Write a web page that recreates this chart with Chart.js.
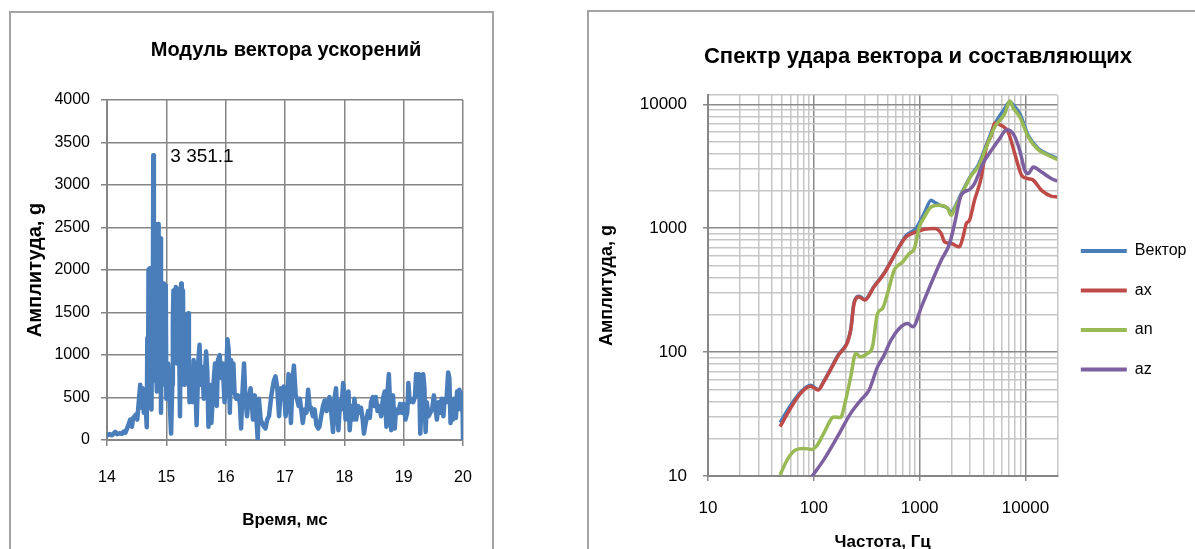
<!DOCTYPE html>
<html>
<head>
<meta charset="utf-8">
<script src="https://cdn.jsdelivr.net/npm/chart.js@4.4.1/dist/chart.umd.min.js"></script>
<style>
  html, body { margin: 0; padding: 0; background: #fff; }
  body { width: 1195px; height: 549px; overflow: hidden; position: relative; }
  .panel { position: absolute; box-sizing: border-box; border: 2px solid #a3a3a3; background: #fff; }
  #leftPanel { left: 9px; top: 11px; width: 485px; height: 620px; }
  #rightPanel { left: 587px; top: 10px; width: 700px; height: 620px; }
  .wrap { position: absolute; }
  #accelWrap { left: 10px; top: 12px; width: 552px; height: 537px; }
  #spectrumWrap { left: 588px; top: 11px; width: 660px; height: 600px; }
</style>
</head>
<body>
<div class="panel" id="leftPanel"></div>
<div class="panel" id="rightPanel"></div>
<div class="wrap" id="accelWrap"><canvas id="accelChart"></canvas></div>
<div class="wrap" id="spectrumWrap"><canvas id="spectrumChart"></canvas></div>
<script>
// --- left chart: |a| vs time, peaks and troughs ---
const timeMs = [
  14.00, 14.04, 14.08, 14.11, 14.14, 14.17, 14.21, 14.25, 14.28, 14.31,
  14.34, 14.36, 14.39, 14.42, 14.44, 14.49, 14.51, 14.56, 14.58, 14.60,
  14.62, 14.65, 14.67, 14.68, 14.69, 14.70, 14.71, 14.72, 14.73, 14.74,
  14.75, 14.76, 14.77, 14.78, 14.79, 14.80, 14.81, 14.82, 14.83, 14.84,
  14.85, 14.86, 14.87, 14.88, 14.89, 14.90, 14.91, 14.92, 14.93, 14.94,
  14.95, 14.96, 14.97, 14.98, 14.99, 15.00, 15.03, 15.05, 15.08, 15.10,
  15.11, 15.12, 15.13, 15.14, 15.15, 15.16, 15.17, 15.18, 15.19, 15.21,
  15.22, 15.23, 15.24, 15.25, 15.26, 15.27, 15.28, 15.29, 15.30, 15.31,
  15.32, 15.33, 15.35, 15.36, 15.37, 15.38, 15.39, 15.41, 15.44, 15.46,
  15.49, 15.51, 15.54, 15.56, 15.58, 15.61, 15.63, 15.67, 15.69, 15.71,
  15.73, 15.76, 15.79, 15.82, 15.85, 15.87, 15.90, 15.92, 15.95, 15.98,
  16.00, 16.03, 16.05, 16.07, 16.09, 16.11, 16.13, 16.15, 16.18, 16.21,
  16.24, 16.26, 16.28, 16.31, 16.33, 16.36, 16.38, 16.42, 16.44, 16.46,
  16.49, 16.52, 16.54, 16.56, 16.59, 16.63, 16.67, 16.70, 16.73, 16.77,
  16.81, 16.84, 16.87, 16.90, 16.93, 16.95, 16.98, 17.01, 17.04, 17.06,
  17.08, 17.10, 17.13, 17.15, 17.18, 17.20, 17.23, 17.25, 17.28, 17.30,
  17.33, 17.36, 17.39, 17.42, 17.44, 17.47, 17.50, 17.53, 17.56, 17.58,
  17.61, 17.64, 17.67, 17.70, 17.72, 17.75, 17.78, 17.81, 17.83, 17.86,
  17.88, 17.90, 17.93, 17.95, 17.98, 18.00, 18.02, 18.05, 18.07, 18.09,
  18.12, 18.15, 18.17, 18.20, 18.23, 18.25, 18.28, 18.31, 18.33, 18.36,
  18.40, 18.43, 18.45, 18.48, 18.51, 18.53, 18.56, 18.59, 18.62, 18.65,
  18.68, 18.71, 18.72, 18.75, 18.77, 18.79, 18.82, 18.85, 18.87, 18.91,
  18.94, 18.97, 19.00, 19.03, 19.06, 19.08, 19.10, 19.13, 19.16, 19.19,
  19.21, 19.23, 19.26, 19.28, 19.30, 19.33, 19.35, 19.37, 19.39, 19.42,
  19.45, 19.48, 19.51, 19.53, 19.56, 19.59, 19.62, 19.64, 19.67, 19.69,
  19.72, 19.75, 19.77, 19.79, 19.81, 19.83, 19.85, 19.88, 19.90, 19.92,
  19.94, 19.97, 19.99, 20.00
];
const accelG = [
  53, 70, 55, 74, 95, 68, 80, 72, 100, 85,
  140, 175, 240, 155, 260, 300, 240, 650, 380, 610,
  320, 440, 150, 1200, 380, 2005, 570, 2020, 900, 1750,
  360, 1500, 700, 3351.1, 900, 1265, 2100, 2540, 800, 570,
  1900, 2540, 1400, 1060, 1900, 2375, 320, 1200, 700, 1595,
  1840, 1100, 650, 1500, 1820, 485, 900, 550, 75, 650,
  1400, 1760, 950, 1060, 1650, 1800, 1100, 900, 1500, 1780,
  900, 280, 1300, 1840, 1200, 1600, 1760, 1000, 650, 1100,
  1470, 900, 815, 1200, 1490, 900, 445, 815, 445, 940,
  650, 175, 940, 1120, 650, 855, 485, 1040, 815, 155,
  650, 200, 610, 900, 400, 940, 1000, 730, 900, 445,
  570, 1185, 1060, 320, 940, 570, 900, 550, 485, 525,
  425, 135, 525, 900, 525, 280, 445, 610, 445, 240,
  525, 240, 10, 485, 240, 175, 135, 240, 280, 525,
  690, 750, 610, 280, 610, 485, 630, 280, 445, 775,
  570, 200, 730, 875, 525, 485, 400, 485, 320, 200,
  360, 320, 590, 360, 380, 280, 360, 175, 135, 155,
  280, 400, 465, 340, 445, 505, 320, 95, 465, 610,
  280, 115, 465, 360, 670, 550, 240, 485, 570, 115,
  400, 240, 485, 240, 400, 320, 380, 240, 75, 200,
  340, 260, 445, 505, 400, 505, 340, 400, 280, 485,
  570, 155, 485, 775, 445, 115, 525, 135, 360, 320,
  425, 320, 425, 240, 320, 670, 445, 485, 445, 505,
  775, 525, 775, 75, 400, 775, 610, 95, 445, 280,
  320, 360, 525, 400, 240, 445, 320, 485, 280, 485,
  445, 795, 730, 200, 400, 240, 485, 260, 570, 360,
  590, 360, 550, 10
];

// --- right chart: shock spectra (frequency Hz, amplitude g) ---
const vectorFreq = [48, 60, 75, 93, 110, 124, 167, 223, 240, 268, 303, 371, 462, 641, 743, 925, 1110, 1283, 1380, 1540, 1846, 1990, 2140, 2470, 3080, 3560, 4270, 5120, 6380, 7110, 7650, 8840, 10650, 13200, 16400, 20000];
const vectorAmp  = [27, 37, 47.5, 54, 50, 58, 93, 152, 252, 283, 266, 340, 435, 715, 870, 1000, 1330, 1680, 1620, 1540, 1450, 1330, 1470, 1900, 2700, 3200, 4700, 6900, 9300, 10500, 9900, 8400, 5600, 4400, 3950, 3650];
const axFreq = [48, 60, 75, 93, 110, 124, 167, 223, 240, 268, 303, 371, 462, 641, 743, 925, 1110, 1380, 1600, 1720, 1990, 2380, 2570, 2760, 2960, 3300, 3830, 4270, 4760, 5120, 5930, 6870, 7940, 9220, 10650, 11870, 14200, 17700, 20000];
const axAmp  = [25, 35, 46.5, 53, 49.4, 57.5, 91.6, 150, 247, 279, 263, 337, 431, 708, 851, 934, 982, 994, 906, 776, 752, 708, 851, 1090, 1160, 1680, 2590, 4530, 5620, 7060, 6760, 5980, 3980, 2670, 2510, 2440, 2020, 1810, 1790];
const anFreq = [48, 56, 67, 80, 96, 108, 124, 155, 179, 200, 223, 249, 278, 321, 358, 400, 446, 497, 575, 690, 798, 891, 993, 1110, 1283, 1540, 1846, 1990, 2140, 2470, 3080, 3560, 4270, 5120, 6380, 7110, 7650, 8840, 10650, 13200, 16400, 20000];
const anAmp  = [10.2, 13.5, 16.2, 16.7, 16.4, 17.8, 22.1, 30, 29.7, 41, 63, 97.6, 91.6, 97.6, 110, 205, 225, 297, 458, 534, 625, 686, 1024, 1233, 1486, 1530, 1440, 1274, 1440, 1846, 2670, 3120, 4530, 6560, 8410, 10640, 9390, 7900, 5440, 4310, 3880, 3580];
const azFreq = [95, 124, 167, 223, 278, 333, 400, 462, 536, 641, 771, 864, 1040, 1283, 1600, 1920, 2140, 2470, 2960, 3300, 3960, 4760, 5700, 6640, 7650, 8840, 9850, 10650, 11870, 14200, 17700, 20000];
const azAmp  = [9.8, 13.5, 20.7, 32, 41, 49.4, 76, 94.6, 125, 155, 170, 160, 232, 358, 552, 752, 1090, 1846, 2050, 2290, 3320, 4250, 5290, 6250, 5800, 4250, 2940, 2760, 3120, 2840, 2510, 2400];

const seriesNames = ['Вектор', 'ax', 'an', 'az'];
const decadeTicks = [10, 100, 1000, 10000];

(function(){
  const COLORS = {
    vector: '#4a7ebb',
    ax: '#be4b48',
    an: '#98b954',
    az: '#7d60a0',
    grid: '#858585',
    gridMajor: '#8a8a8a',
    gridMinor: '#c6c6c6',
    axis: '#868686'
  };
  const SANS = "'Liberation Sans', Arial, sans-serif";

  function toPoints(xs, ys){
    return xs.map((x, i) => ({ x: x, y: ys[i] }));
  }

  function groupThousands(v){
    const parts = v.toFixed(1).split('.');
    return parts[0].replace(/\B(?=(\d{3})+(?!\d))/g, ' ') + '.' + parts[1];
  }

  // chart title centred on the whole canvas (Excel centres it over the full chart box)
  const panelTitle = {
    id: 'panelTitle',
    afterDraw(chart, args, opts){
      const c = chart.ctx;
      c.save();
      c.font = opts.font;
      c.fillStyle = '#000';
      c.textAlign = 'center';
      c.textBaseline = 'middle';
      c.fillText(opts.text, chart.width / 2, opts.y);
      c.restore();
    }
  };

  // max value written next to the highest point, like the Excel data label
  const peakLabel = {
    id: 'peakLabel',
    afterDatasetsDraw(chart){
      const pts = chart.data.datasets[0].data;
      let best = pts[0];
      pts.forEach(p => { if (p.y > best.y) best = p; });
      const px = chart.scales.x.getPixelForValue(best.x);
      const py = chart.scales.y.getPixelForValue(best.y);
      const c = chart.ctx;
      c.save();
      c.font = '19px ' + SANS;
      c.fillStyle = '#000';
      c.textBaseline = 'middle';
      c.fillText(groupThousands(best.y), px + 17, py + 2);
      c.restore();
    }
  };

  function renderAccel(){
    const ctx = document.getElementById('accelChart').getContext('2d');
    return new Chart(ctx, {
      type: 'line',
      data: {
        datasets: [{
          data: toPoints(timeMs, accelG),
          borderColor: COLORS.vector,
          borderWidth: 4.5,
          borderJoinStyle: 'round',
          borderCapStyle: 'round',
          pointRadius: 0,
          tension: 0
        }]
      },
      options: {
        responsive: true,
        maintainAspectRatio: false,
        animation: false,
        layout: { padding: { left: 0, right: 99, top: 88, bottom: 0 } },
        plugins: {
          legend: { display: false },
          tooltip: { enabled: false },
          panelTitle: { text: 'Модуль вектора ускорений', font: 'bold 20px ' + SANS, y: 38 }
        },
        scales: {
          x: {
            type: 'linear', min: 14, max: 20,
            ticks: { stepSize: 1, color: '#000', font: { family: SANS, size: 16 }, padding: 22.4, maxRotation: 0 },
            grid: { color: COLORS.grid, lineWidth: 1.5, tickLength: 6 },
            border: { color: COLORS.axis, width: 2 },
            title: { display: true, text: 'Время, мс', color: '#000', font: { family: SANS, size: 17, weight: 'bold' }, padding: { top: 0, bottom: 18.8 } },
            afterFit: s => { s.height = 109; }
          },
          y: {
            min: 0, max: 4000,
            ticks: { stepSize: 500, color: '#000', font: { family: SANS, size: 16 }, padding: 11, callback: v => String(v) },
            grid: { color: COLORS.grid, lineWidth: 1.5, tickLength: 6 },
            border: { color: COLORS.axis, width: 2 },
            title: { display: true, text: 'Амплитуда, g', color: '#000', font: { family: SANS, size: 20, weight: 'bold' }, padding: { top: 13, bottom: 0 } },
            afterFit: s => { s.width = 97; }
          }
        }
      },
      plugins: [panelTitle, peakLabel]
    });
  }

  // 1..9 x 10^n ticks, like Excel's minor log grid, plus the axis max
  function setLogTicks(scale){
    const vals = [];
    const lo = Math.floor(Math.log10(scale.min));
    const hi = Math.ceil(Math.log10(scale.max));
    for (let e = lo; e <= hi; e++) {
      for (let m = 1; m <= 9; m++) {
        const v = Math.round(m * Math.pow(10, e));
        if (v >= scale.min && v <= scale.max) vals.push(v);
      }
    }
    if (vals[vals.length - 1] !== scale.max) vals.push(scale.max);
    scale.ticks = vals.map(v => ({ value: v }));
  }

  const isDecade = v => decadeTicks.indexOf(v) !== -1;
  const decadeLabel = v => isDecade(v) ? String(v) : '';
  const gridColor = c => (c.tick && isDecade(c.tick.value)) ? COLORS.gridMajor : COLORS.gridMinor;
  const tickColor = c => (c.tick && isDecade(c.tick.value)) ? COLORS.gridMajor : 'rgba(0,0,0,0)';

  function renderSpectrum(){
    const ctx = document.getElementById('spectrumChart').getContext('2d');
    const line = (label, xs, ys, color, order) => ({
      label: label,
      data: toPoints(xs, ys),
      borderColor: color,
      backgroundColor: color,
      borderWidth: 3.5,
      pointRadius: 0,
      cubicInterpolationMode: 'monotone',
      order: order
    });
    return new Chart(ctx, {
      type: 'line',
      data: {
        datasets: [
          line(seriesNames[0], vectorFreq, vectorAmp, COLORS.vector, 4),
          line(seriesNames[1], axFreq, axAmp, COLORS.ax, 3),
          line(seriesNames[2], anFreq, anAmp, COLORS.an, 2),
          line(seriesNames[3], azFreq, azAmp, COLORS.az, 1)
        ]
      },
      options: {
        responsive: true,
        maintainAspectRatio: false,
        animation: false,
        layout: { padding: { left: 0, right: 51.5, top: 84, bottom: 0 } },
        plugins: {
          tooltip: { enabled: false },
          panelTitle: { text: 'Спектр удара вектора и составляющих', font: 'bold 22px ' + SANS, y: 46 },
          legend: {
            position: 'right',
            fullSize: false,
            title: { display: true, text: ' ', padding: { top: 35.1, bottom: 0 } },
            labels: {
              boxWidth: 46,
              boxHeight: 4,
              padding: 23.5,
              color: '#000',
              font: { family: SANS, size: 16 },
              sort: (a, b) => a.datasetIndex - b.datasetIndex,
              generateLabels(chart){
                const items = Chart.defaults.plugins.legend.labels.generateLabels(chart);
                items.forEach(it => { it.lineWidth = 0; });
                return items;
              }
            }
          }
        },
        scales: {
          x: {
            type: 'logarithmic', min: 10, max: 20000,
            afterBuildTicks: setLogTicks,
            ticks: { autoSkip: false, maxRotation: 0, color: '#000', font: { family: SANS, size: 17 }, padding: 16.8, callback: decadeLabel },
            grid: { color: gridColor, tickColor: tickColor, lineWidth: 1.5, tickLength: 5 },
            border: { color: COLORS.axis, width: 2 },
            title: { display: true, text: 'Частота, Гц', color: '#000', font: { family: SANS, size: 17, weight: 'bold' }, padding: { top: 0, bottom: 58.8 } },
            afterFit: s => { s.height = 135; }
          },
          y: {
            type: 'logarithmic', min: 10, max: 11900,
            afterBuildTicks: setLogTicks,
            ticks: { autoSkip: false, color: '#000', font: { family: SANS, size: 17 }, padding: 16, callback: decadeLabel },
            grid: { color: gridColor, tickColor: tickColor, lineWidth: 1.5, tickLength: 5 },
            border: { color: COLORS.axis, width: 2 },
            title: { display: true, text: 'Амплитуда, g', color: '#000', font: { family: SANS, size: 18, weight: 'bold' }, padding: { top: 8.2, bottom: 0 } },
            afterFit: s => { s.width = 120; }
          }
        }
      },
      plugins: [panelTitle]
    });
  }

  renderAccel();
  renderSpectrum();
})();
</script>
</body>
</html>
